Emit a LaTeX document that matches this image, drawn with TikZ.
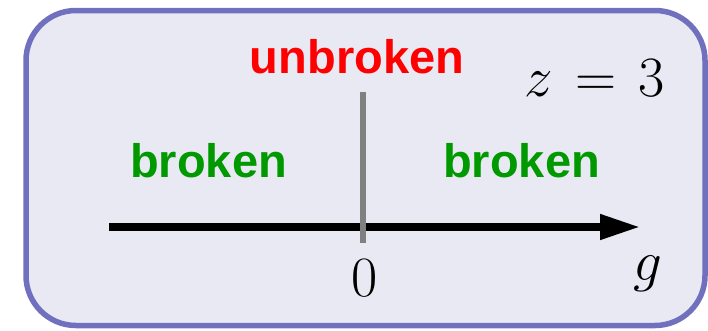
\RequirePackage{fix-cm}
\documentclass[tikz,border=0pt]{standalone}
\usepackage[no-math]{fontspec}
\newfontfamily\labfont{Liberation Sans}
\usetikzlibrary{arrows.meta}
\definecolor{frameblue}{RGB}{112,112,190}
\definecolor{framefill}{RGB}{233,233,244}
\definecolor{phasegreen}{RGB}{0,153,0}
\definecolor{phasered}{RGB}{255,0,0}
\tikzset{
  phase/.style={inner sep=0pt, anchor=base, font=\labfont\bfseries\fontsize{47}{50}\selectfont},
  mathlbl/.style={inner sep=0pt, font=\fontsize{57}{60}\selectfont},
  axisline/.style={line width=7.5pt, -{Triangle[length=40pt,width=24pt]}},
  boundary/.style={line width=6pt, draw={rgb,255:red,128;green,128;blue,128}},
}
\begin{document}
\begin{tikzpicture}[x=1pt,y=-1pt]
  \useasboundingbox (0,0) rectangle (708,330);
  % frame
  \draw[frameblue, fill=framefill, line width=5.5pt, rounded corners=50pt]
    (26,10.5) rectangle (705,325.5);
  % coupling axis
  \coordinate (axL) at (109,227);
  \coordinate (axR) at (640,227);
  \draw[axisline] (axL) -- (axR);
  % phase boundary at g = 0
  \coordinate (bTop) at (363,92);
  \coordinate (bBot) at (363,243);
  \draw[boundary] (bTop) -- (bBot);
  % labels
  \node[phase, text=phasered] (unb) at (357,73) {unbroken};
  \node[phase, text=phasegreen] (brL) at (208.5,177) {broken};
  \node[phase, text=phasegreen] (brR) at (521.5,177) {broken};
  \node[mathlbl, anchor=base east] (zlab) at (665,96) {$z\mskip2mu=\mskip2mu3$};
  \node[mathlbl, anchor=base] (zero) at (365,296) {$0$};
  \node[mathlbl, anchor=base] (glab) at (648,280) {$g$};
\end{tikzpicture}
\end{document}
